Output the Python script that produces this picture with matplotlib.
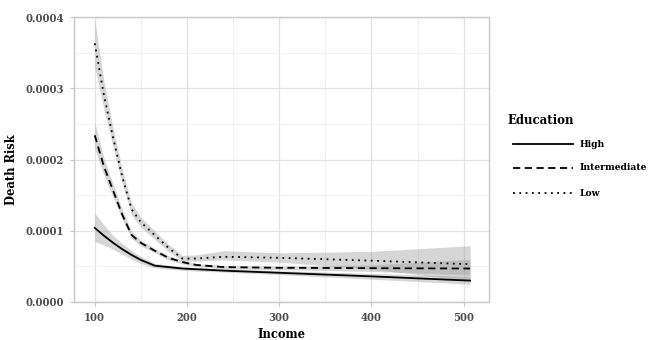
import matplotlib
matplotlib.use("Agg")
import matplotlib.pyplot as plt
import numpy as np
from matplotlib.lines import Line2D

income = [100, 110, 120, 130, 140, 150, 165, 180, 195, 210, 240, 300, 400, 507]

high = [1.04e-4, 0.93e-4, 0.83e-4, 0.74e-4, 0.66e-4, 0.59e-4, 0.51e-4, 0.49e-4, 0.47e-4, 0.46e-4, 0.44e-4, 0.41e-4, 0.36e-4, 0.30e-4]
high_lo = [0.85e-4, 0.80e-4, 0.74e-4, 0.67e-4, 0.60e-4, 0.54e-4, 0.48e-4, 0.46e-4, 0.445e-4, 0.435e-4, 0.42e-4, 0.385e-4, 0.32e-4, 0.25e-4]
high_hi = [1.25e-4, 1.08e-4, 0.93e-4, 0.82e-4, 0.72e-4, 0.64e-4, 0.54e-4, 0.52e-4, 0.495e-4, 0.485e-4, 0.47e-4, 0.44e-4, 0.40e-4, 0.36e-4]

inter = [2.34e-4, 1.90e-4, 1.56e-4, 1.22e-4, 0.94e-4, 0.83e-4, 0.72e-4, 0.62e-4, 0.56e-4, 0.52e-4, 0.49e-4, 0.48e-4, 0.475e-4, 0.47e-4]
inter_lo = [2.15e-4, 1.78e-4, 1.47e-4, 1.15e-4, 0.89e-4, 0.79e-4, 0.69e-4, 0.59e-4, 0.535e-4, 0.50e-4, 0.47e-4, 0.455e-4, 0.43e-4, 0.38e-4]
inter_hi = [2.52e-4, 2.02e-4, 1.65e-4, 1.29e-4, 0.99e-4, 0.87e-4, 0.75e-4, 0.65e-4, 0.585e-4, 0.54e-4, 0.51e-4, 0.505e-4, 0.52e-4, 0.60e-4]

low = [3.63e-4, 2.90e-4, 2.30e-4, 1.75e-4, 1.30e-4, 1.12e-4, 0.94e-4, 0.76e-4, 0.61e-4, 0.61e-4, 0.635e-4, 0.62e-4, 0.58e-4, 0.53e-4]
low_lo = [3.30e-4, 2.70e-4, 2.17e-4, 1.65e-4, 1.22e-4, 1.05e-4, 0.88e-4, 0.71e-4, 0.575e-4, 0.575e-4, 0.59e-4, 0.56e-4, 0.46e-4, 0.30e-4]
low_hi = [3.96e-4, 3.10e-4, 2.43e-4, 1.85e-4, 1.38e-4, 1.19e-4, 1.00e-4, 0.81e-4, 0.655e-4, 0.66e-4, 0.72e-4, 0.69e-4, 0.71e-4, 0.79e-4]

labels = ["High", "Intermediate", "Low"]

plt.rcParams["font.stretch"] = "condensed"
font = "DejaVu Serif"
W, H = 652, 340
fig = plt.figure(figsize=(6.52, 3.40), dpi=100)
ax = fig.add_axes([74/W, 1-302/H, (489-74)/W, (302-17)/H])

styles = ["-", (0, (4, 2.5)), (0, (1, 2.5))]
band_color = "#999999"
for lo, hi in [(high_lo, high_hi), (inter_lo, inter_hi), (low_lo, low_hi)]:
    ax.fill_between(income, lo, hi, color=band_color, alpha=0.4, linewidth=0, zorder=2)

for ys, st in zip([high, inter, low], styles):
    ax.plot(income, ys, color="black", lw=1.3, ls=st, zorder=3)

ax.set_xlim(77.5, 527.5)
ax.set_ylim(0, 0.0004)
ax.set_xticks([100, 200, 300, 400, 500])
ax.set_xticks([150, 250, 350, 450], minor=True)
ax.set_yticks([0, 0.0001, 0.0002, 0.0003, 0.0004])
ax.set_yticks([0.00005, 0.00015, 0.00025, 0.00035], minor=True)
ax.set_yticklabels(["0.0000", "0.0001", "0.0002", "0.0003", "0.0004"])
ax.grid(which="major", color="#e3e3e3", lw=0.9, zorder=0)
ax.grid(which="minor", color="#efefef", lw=0.6, zorder=0)
ax.set_axisbelow(True)
for s in ax.spines.values():
    s.set_color("#c8c8c8")
    s.set_linewidth(1.0)
ax.tick_params(which="major", length=3, color="#c8c8c8", labelsize=8.0, labelcolor="#4d4d4d", pad=4)
ax.tick_params(which="minor", length=0)
for t in ax.get_xticklabels() + ax.get_yticklabels():
    t.set_fontfamily(font)
    t.set_fontweight("bold")

ax.set_xlabel("Income", fontsize=9.2, fontweight="bold", fontfamily=font, labelpad=4)
ax.set_ylabel("Death Risk", fontsize=9.2, fontweight="bold", fontfamily=font)
ax.yaxis.set_label_coords(18/W, 0.5, transform=fig.transFigure)

# legend drawn in figure pixel coordinates
fig.text(507/W, 1-120/H, "Education", fontsize=9.4, fontweight="bold", fontfamily=font,
         ha="left", va="center")
rows = [144, 168, 193]
for lab, st, yr in zip(labels, styles, rows):
    fig.add_artist(Line2D([513/W, 573/W], [1-yr/H, 1-yr/H], color="black", lw=1.3, ls=st,
                          transform=fig.transFigure))
    fig.text(580/W, 1-yr/H, lab, fontsize=7.4, fontweight="bold", fontfamily=font,
             ha="left", va="center")

fig.savefig("out.png", dpi=100)
